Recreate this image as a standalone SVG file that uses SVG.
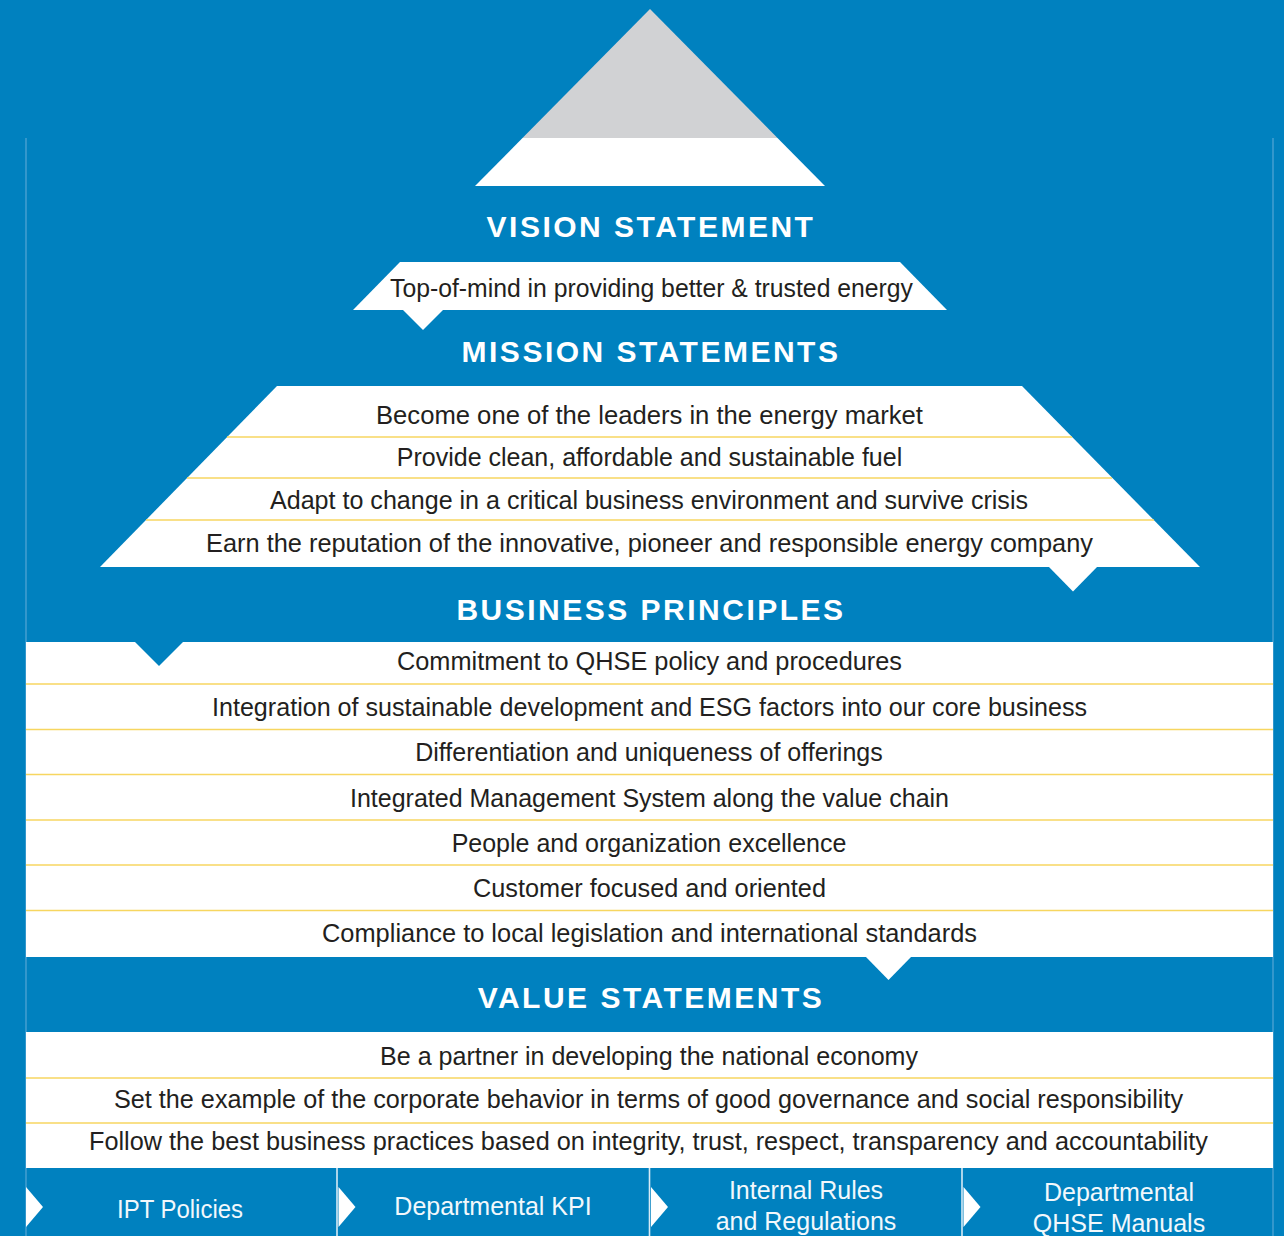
<svg xmlns="http://www.w3.org/2000/svg" width="1284" height="1236" viewBox="0 0 1284 1236">
<style>
.bg{fill:#0081BF}
.w{fill:#FFFFFF}
.blue{fill:#0081BF}
.gray{fill:#D1D2D4}
.sep{stroke:#F7D660;stroke-width:1.5;fill:none}
.frame{stroke:#55A7D6;stroke-width:1.2;fill:none}
.bsep{stroke:#D6EAF5;stroke-width:1.6;fill:none}
.title{font-family:"Liberation Sans",Arial,sans-serif;font-weight:bold;font-size:30px;letter-spacing:2.5px;fill:#FFFFFF;text-anchor:middle}
.t{font-family:"Liberation Sans",Arial,sans-serif;font-size:25px;fill:#231F20;text-anchor:middle}
.bt{font-family:"Liberation Sans",Arial,sans-serif;font-size:25px;fill:#F2F8FC;text-anchor:middle}
</style>
<rect class="bg" x="0" y="0" width="1284" height="1236"/>
<g id="frame">
<line class="frame" x1="26" y1="138" x2="26" y2="1236"/>
<line class="frame" x1="1273" y1="138" x2="1273" y2="1236"/>
</g>
<g id="apex">
<polygon class="gray" points="650,9 777.5,138 522.5,138"/>
<polygon class="w" points="522.5,138 777.5,138 825,186 475,186"/>
</g>
<g id="vision-title"><text class="title" x="651" y="237">VISION STATEMENT</text></g>
<g id="vision-statement">
<polygon class="w" points="400,262 900,262 947,310 353,310"/>
<text class="t" x="651.5" y="297" textLength="523" lengthAdjust="spacingAndGlyphs">Top-of-mind in providing better &amp; trusted energy</text>
</g>
<g id="mission-title"><text class="title" x="651" y="362">MISSION STATEMENTS</text></g>
<g id="mission-statements">
<polygon class="w" points="277,386 1022,386 1200,567 100,567"/>
<line class="sep" x1="227" y1="437" x2="1072" y2="437"/>
<line class="sep" x1="187" y1="478" x2="1112" y2="478"/>
<line class="sep" x1="146" y1="520" x2="1154" y2="520"/>
<g id="mission-1"><text class="t" x="649.5" y="424" textLength="547" lengthAdjust="spacingAndGlyphs">Become one of the leaders in the energy market</text></g>
<g id="mission-2"><text class="t" x="649.5" y="466">Provide clean, affordable and sustainable fuel</text></g>
<g id="mission-3"><text class="t" x="649" y="509" textLength="758" lengthAdjust="spacingAndGlyphs">Adapt to change in a critical business environment and survive crisis</text></g>
<g id="mission-4"><text class="t" x="649.5" y="552" textLength="887" lengthAdjust="spacingAndGlyphs">Earn the reputation of the innovative, pioneer and responsible energy company</text></g>
</g>
<g id="business-title"><text class="title" x="651" y="620">BUSINESS PRINCIPLES</text></g>
<g id="business-principles">
<rect class="w" x="26" y="642" width="1247" height="315"/>
<line class="sep" x1="26" y1="684" x2="1273" y2="684"/>
<line class="sep" x1="26" y1="729.5" x2="1273" y2="729.5"/>
<line class="sep" x1="26" y1="774.5" x2="1273" y2="774.5"/>
<line class="sep" x1="26" y1="820" x2="1273" y2="820"/>
<line class="sep" x1="26" y1="865" x2="1273" y2="865"/>
<line class="sep" x1="26" y1="910.5" x2="1273" y2="910.5"/>
<g id="bp-1"><text class="t" x="649.5" y="670" textLength="505" lengthAdjust="spacingAndGlyphs">Commitment to QHSE policy and procedures</text></g>
<g id="bp-2"><text class="t" x="649.5" y="716" textLength="875" lengthAdjust="spacingAndGlyphs">Integration of sustainable development and ESG factors into our core business</text></g>
<g id="bp-3"><text class="t" x="649" y="761">Differentiation and uniqueness of offerings</text></g>
<g id="bp-4"><text class="t" x="649.5" y="807">Integrated Management System along the value chain</text></g>
<g id="bp-5"><text class="t" x="649" y="852">People and organization excellence</text></g>
<g id="bp-6"><text class="t" x="649.5" y="897" textLength="353" lengthAdjust="spacingAndGlyphs">Customer focused and oriented</text></g>
<g id="bp-7"><text class="t" x="649.5" y="942" textLength="655" lengthAdjust="spacingAndGlyphs">Compliance to local legislation and international standards</text></g>
</g>
<g id="value-title"><text class="title" x="651" y="1008">VALUE STATEMENTS</text></g>
<g id="value-statements">
<rect class="w" x="26" y="1032" width="1247" height="136"/>
<line class="sep" x1="26" y1="1078" x2="1273" y2="1078"/>
<line class="sep" x1="26" y1="1123" x2="1273" y2="1123"/>
<g id="vs-1"><text class="t" x="649" y="1065" textLength="538" lengthAdjust="spacingAndGlyphs">Be a partner in developing the national economy</text></g>
<g id="vs-2"><text class="t" x="648.5" y="1108" textLength="1069" lengthAdjust="spacingAndGlyphs">Set the example of the corporate behavior in terms of good governance and social responsibility</text></g>
<g id="vs-3"><text class="t" x="648.5" y="1150" textLength="1119" lengthAdjust="spacingAndGlyphs">Follow the best business practices based on integrity, trust, respect, transparency and accountability</text></g>
</g>
<g id="connectors">
<polygon class="w" points="402,309 444,309 423,330"/>
<polygon class="w" points="1048,566 1098,566 1073,591.5"/>
<polygon class="blue" points="135,642 183,642 159,666"/>
<polygon class="w" points="865,956 912,956 888.5,980"/>
</g>
<g id="box-ipt-policies">
<polygon class="w" points="26,1187 43,1207 26,1227"/>
<text class="bt" x="180" y="1218" textLength="126" lengthAdjust="spacingAndGlyphs">IPT Policies</text>
</g>
<g id="box-departmental-kpi">
<line class="bsep" x1="337" y1="1168" x2="337" y2="1236"/>
<polygon class="w" points="338.5,1187 355.5,1207 338.5,1227"/>
<text class="bt" x="493" y="1215">Departmental KPI</text>
</g>
<g id="box-internal-rules">
<line class="bsep" x1="649.5" y1="1168" x2="649.5" y2="1236"/>
<polygon class="w" points="651,1187 668,1207 651,1227"/>
<text class="bt" x="806" y="1199">Internal Rules</text>
<text class="bt" x="806" y="1230">and Regulations</text>
</g>
<g id="box-qhse-manuals">
<line class="bsep" x1="962" y1="1168" x2="962" y2="1236"/>
<polygon class="w" points="963.5,1187 980.5,1207 963.5,1227"/>
<text class="bt" x="1119" y="1201">Departmental</text>
<text class="bt" x="1119" y="1232">QHSE Manuals</text>
</g>
</svg>
